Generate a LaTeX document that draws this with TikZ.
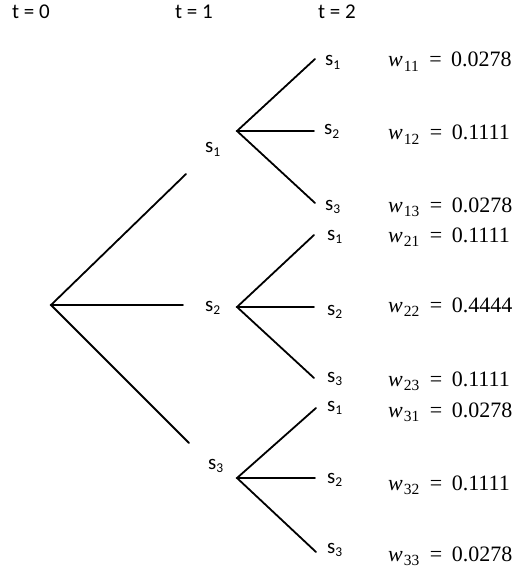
\documentclass[tikz,border=0pt]{standalone}
\usepackage[no-math]{fontspec}
\setmainfont{Carlito}
\newfontfamily\wfont{Liberation Serif}
\newcommand\lblsub[1]{\raisebox{-3.4pt}{\fontsize{13.5}{13.5}\selectfont #1}}
\newcommand\wsub[1]{\raisebox{-4.2pt}{\fontsize{15.5}{15.5}\selectfont #1}}
\newcommand\wval[2]{\textit{w}\hspace{1pt}\wsub{#1}\hspace{10.5pt}=\hspace{9.5pt}#2}
\begin{document}
\begin{tikzpicture}[x=1pt,y=-1pt,
  branch/.style={line width=1.8pt,line cap=round},
  slabel/.style={anchor=base west,inner sep=0pt,font=\fontsize{21}{25}\selectfont},
  tlabel/.style={anchor=base west,inner sep=0pt,font=\fontsize{21}{25}\selectfont},
  wlabel/.style={anchor=base west,inner sep=0pt,font=\wfont\fontsize{22}{26}\selectfont}]
\useasboundingbox (0,0) rectangle (515,569);
% time labels
\node[tlabel] (t0) at (12,19) {t = 0};
\node[tlabel] (t1) at (175,19) {t = 1};
\node[tlabel] (t2) at (318,19) {t = 2};
% root and stage-1 branch points
\coordinate (R) at (51,305);
\coordinate (R1) at (186,174);
\coordinate (R2) at (183,305);
\coordinate (R3) at (189,443);
\coordinate (A) at (237,131);
\coordinate (B) at (237,307);
\coordinate (C) at (237,478);
% stage-2 ends
\coordinate (A1) at (315,59);
\coordinate (A2) at (314,131);
\coordinate (A3) at (315,203);
\coordinate (B1) at (314,235);
\coordinate (B2) at (314,307);
\coordinate (B3) at (314,378);
\coordinate (C1) at (316,408);
\coordinate (C2) at (315,478);
\coordinate (C3) at (316,552);
% branches
\draw[branch] (R1) -- (R) -- (R3);
\draw[branch] (R) -- (R2);
\draw[branch] (A1) -- (A) -- (A3);
\draw[branch] (A) -- (A2);
\draw[branch] (B1) -- (B) -- (B3);
\draw[branch] (B) -- (B2);
\draw[branch] (C1) -- (C) -- (C3);
\draw[branch] (C) -- (C2);
% stage-1 labels
\node[slabel] (sA) at (205,153) {s\lblsub{1}};
\node[slabel] (sB) at (205,311) {s\lblsub{2}};
\node[slabel] (sC) at (208,469) {s\lblsub{3}};
% stage-2 labels
\node[slabel] (sA1) at (325,66) {s\lblsub{1}};
\node[slabel] (sA2) at (324,135) {s\lblsub{2}};
\node[slabel] (sA3) at (325,210) {s\lblsub{3}};
\node[slabel] (sB1) at (327,240) {s\lblsub{1}};
\node[slabel] (sB2) at (327,315) {s\lblsub{2}};
\node[slabel] (sB3) at (327,382) {s\lblsub{3}};
\node[slabel] (sC1) at (327,411) {s\lblsub{1}};
\node[slabel] (sC2) at (327,483) {s\lblsub{2}};
\node[slabel] (sC3) at (327,553) {s\lblsub{3}};
% weights
\node[wlabel] (w11) at (388,67) {\wval{11}{0.0278}};
\node[wlabel] (w12) at (388,140) {\wval{12}{0.1111}};
\node[wlabel] (w13) at (388,212) {\wval{13}{0.0278}};
\node[wlabel] (w21) at (388,242) {\wval{21}{0.1111}};
\node[wlabel] (w22) at (388,312) {\wval{22}{0.4444}};
\node[wlabel] (w23) at (388,386) {\wval{23}{0.1111}};
\node[wlabel] (w31) at (388,417) {\wval{31}{0.0278}};
\node[wlabel] (w32) at (388,490) {\wval{32}{0.1111}};
\node[wlabel] (w33) at (388,561) {\wval{33}{0.0278}};
\end{tikzpicture}
\end{document}
